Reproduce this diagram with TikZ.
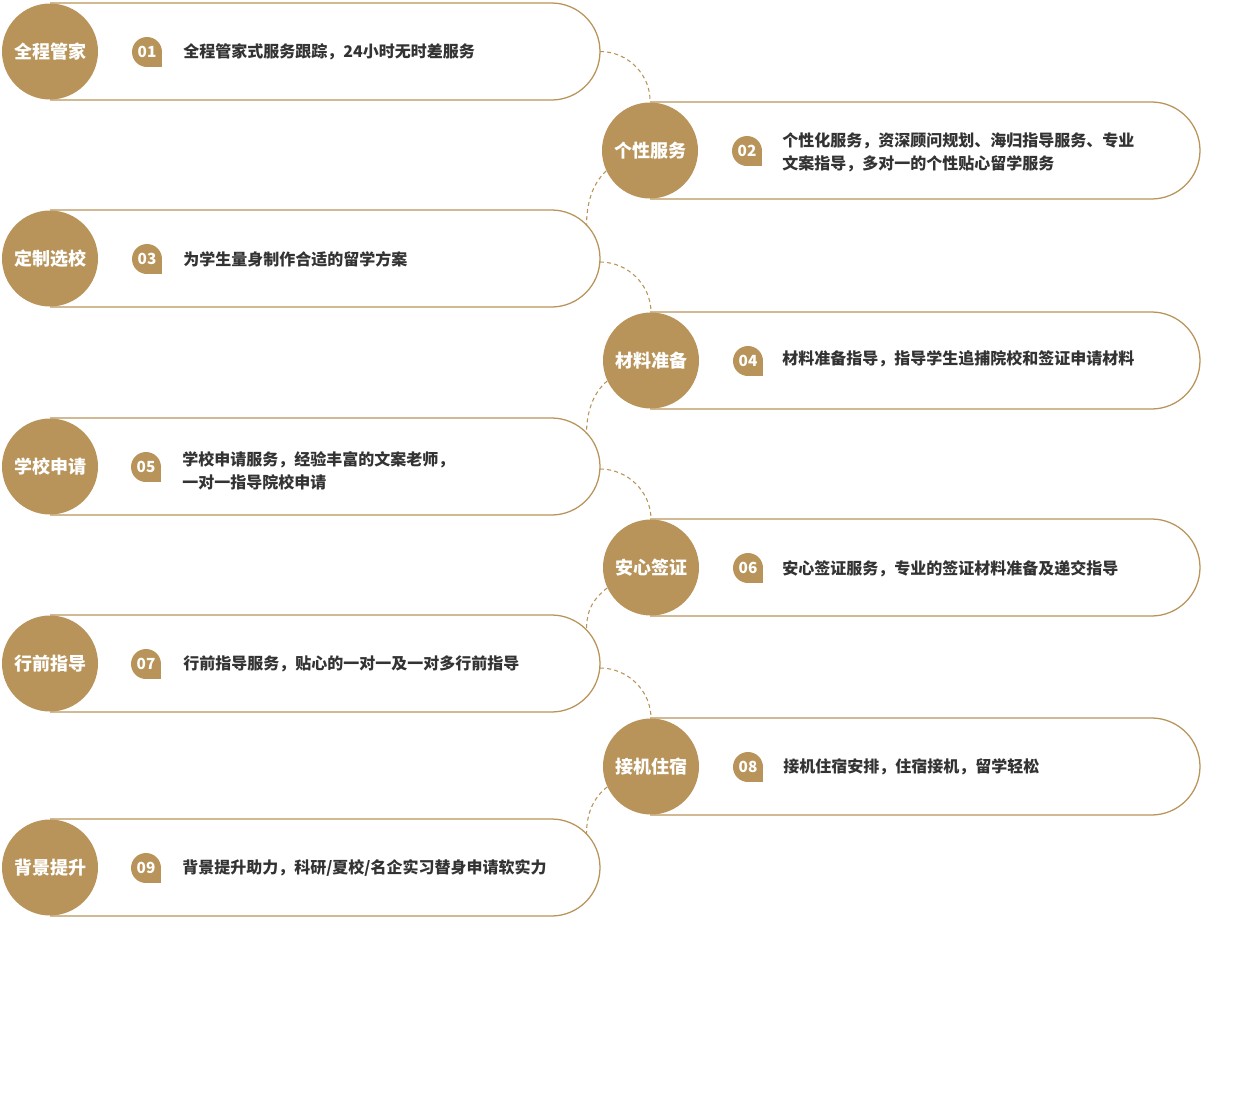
\documentclass[tikz,border=0pt]{standalone}
\usepackage{fontspec}
\setmainfont{Noto Sans CJK SC}
\definecolor{gold}{HTML}{B8945A}
\definecolor{txt}{HTML}{333333}
\newcommand\svcpill[3]{%
  \draw[pill] (#1,#3-48.5) -- (#2-48.5,#3-48.5) arc[start angle=90,end angle=-90,radius=36.375pt] -- (#1,#3+48.5);}
\newcommand\svcbadge[4]{% name, x, y, number
  \fill[gold] (#2,#3) rectangle ++(15,15);
  \node[badge] (#1) at (#2,#3) {#4};}
\begin{document}
\begin{tikzpicture}[x=0.75pt,y=-0.75pt,
  pill/.style={draw=gold,line width=0.95pt},
  linkdash/.style={draw=gold,line width=0.8pt,dash pattern=on 3pt off 2.4pt},
  disc/.style={circle,fill=gold,minimum size=72pt,inner sep=0pt,text=white,
    font=\bfseries\fontsize{13.5}{16}\selectfont},
  badge/.style={circle,fill=gold,minimum size=22.5pt,inner sep=0pt,text=white,
    font=\bfseries\fontsize{11.5}{13}\selectfont},
  desc/.style={anchor=west,align=left,inner sep=0pt,text=txt,
    font=\bfseries\fontsize{12}{17.25}\selectfont}]
\useasboundingbox (0,0) rectangle (1233,1100);
% pills
\svcpill{50}{600}{51.5}
\svcpill{650}{1200}{150.5}
\svcpill{50}{600}{258.5}
\svcpill{650}{1200}{360.5}
\svcpill{50}{600}{466.5}
\svcpill{650}{1200}{567.5}
\svcpill{50}{600}{663.5}
\svcpill{650}{1200}{766.5}
\svcpill{50}{600}{867.5}
% circles
\node[disc] (c1) at (50,51.5) {全程管家};
\node[disc] (c2) at (650,150.5) {个性服务};
\node[disc] (c3) at (50,258.5) {定制选校};
\node[disc] (c4) at (651,360.5) {材料准备};
\node[disc] (c5) at (50,466.5) {学校申请};
\node[disc] (c6) at (651,567.5) {安心签证};
\node[disc] (c7) at (50,663.5) {行前指导};
\node[disc] (c8) at (651,766.5) {接机住宿};
\node[disc] (c9) at (50,867.5) {背景提升};
% pill ends
\coordinate (e1) at (600,51.5);
\coordinate (e3) at (600,262);
\coordinate (e5) at (600,469);
\coordinate (e7) at (600,668);
\coordinate (t3) at (586.5,226);
\coordinate (t5) at (586.5,434);
\coordinate (t7) at (586.5,630);
\coordinate (t9) at (586.5,834);
% dashed links
\draw[linkdash] (e1) .. controls (628,51.5) and (651,75) .. (c2.north);
\draw[linkdash] (e3) .. controls (628,262) and (651,285) .. (c4.north);
\draw[linkdash] (e5) .. controls (628,469) and (651,492) .. (c6.north);
\draw[linkdash] (e7) .. controls (628,668) and (651,691) .. (c8.north);
\draw[linkdash] (c2.205) .. controls (593,183) and (586.5,202) .. (t3);
\draw[linkdash] (c4.205) .. controls (593,393) and (586.5,412) .. (t5);
\draw[linkdash] (c6.205) .. controls (593,599) and (586.5,610) .. (t7);
\draw[linkdash] (c8.205) .. controls (593,798) and (586.5,814) .. (t9);
% badges
\svcbadge{b1}{147}{52}{01}
\svcbadge{b2}{747}{151}{02}
\svcbadge{b3}{147}{259}{03}
\svcbadge{b4}{748}{361}{04}
\svcbadge{b5}{146}{467}{05}
\svcbadge{b6}{748}{568}{06}
\svcbadge{b7}{146}{664}{07}
\svcbadge{b8}{748}{767}{08}
\svcbadge{b9}{146}{868}{09}
% descriptions
\node[desc] (d1) at (183,52) {全程管家式服务跟踪，24小时无时差服务};
\node[desc] (d2) at (782,152) {个性化服务，资深顾问规划、海归指导服务、专业\\文案指导，多对一的个性贴心留学服务};
\node[desc] (d3) at (183,259) {为学生量身制作合适的留学方案};
\node[desc] (d4) at (782,359) {材料准备指导，指导学生追捕院校和签证申请材料};
\node[desc] (d5) at (182,471) {学校申请服务，经验丰富的文案老师，\\一对一指导院校申请};
\node[desc] (d6) at (782,569) {安心签证服务，专业的签证材料准备及递交指导};
\node[desc] (d7) at (183,664) {行前指导服务，贴心的一对一及一对多行前指导};
\node[desc] (d8) at (783,767) {接机住宿安排，住宿接机，留学轻松};
\node[desc] (d9) at (182,868) {背景提升助力，科研/夏校/名企实习替身申请软实力};
\end{tikzpicture}
\end{document}
